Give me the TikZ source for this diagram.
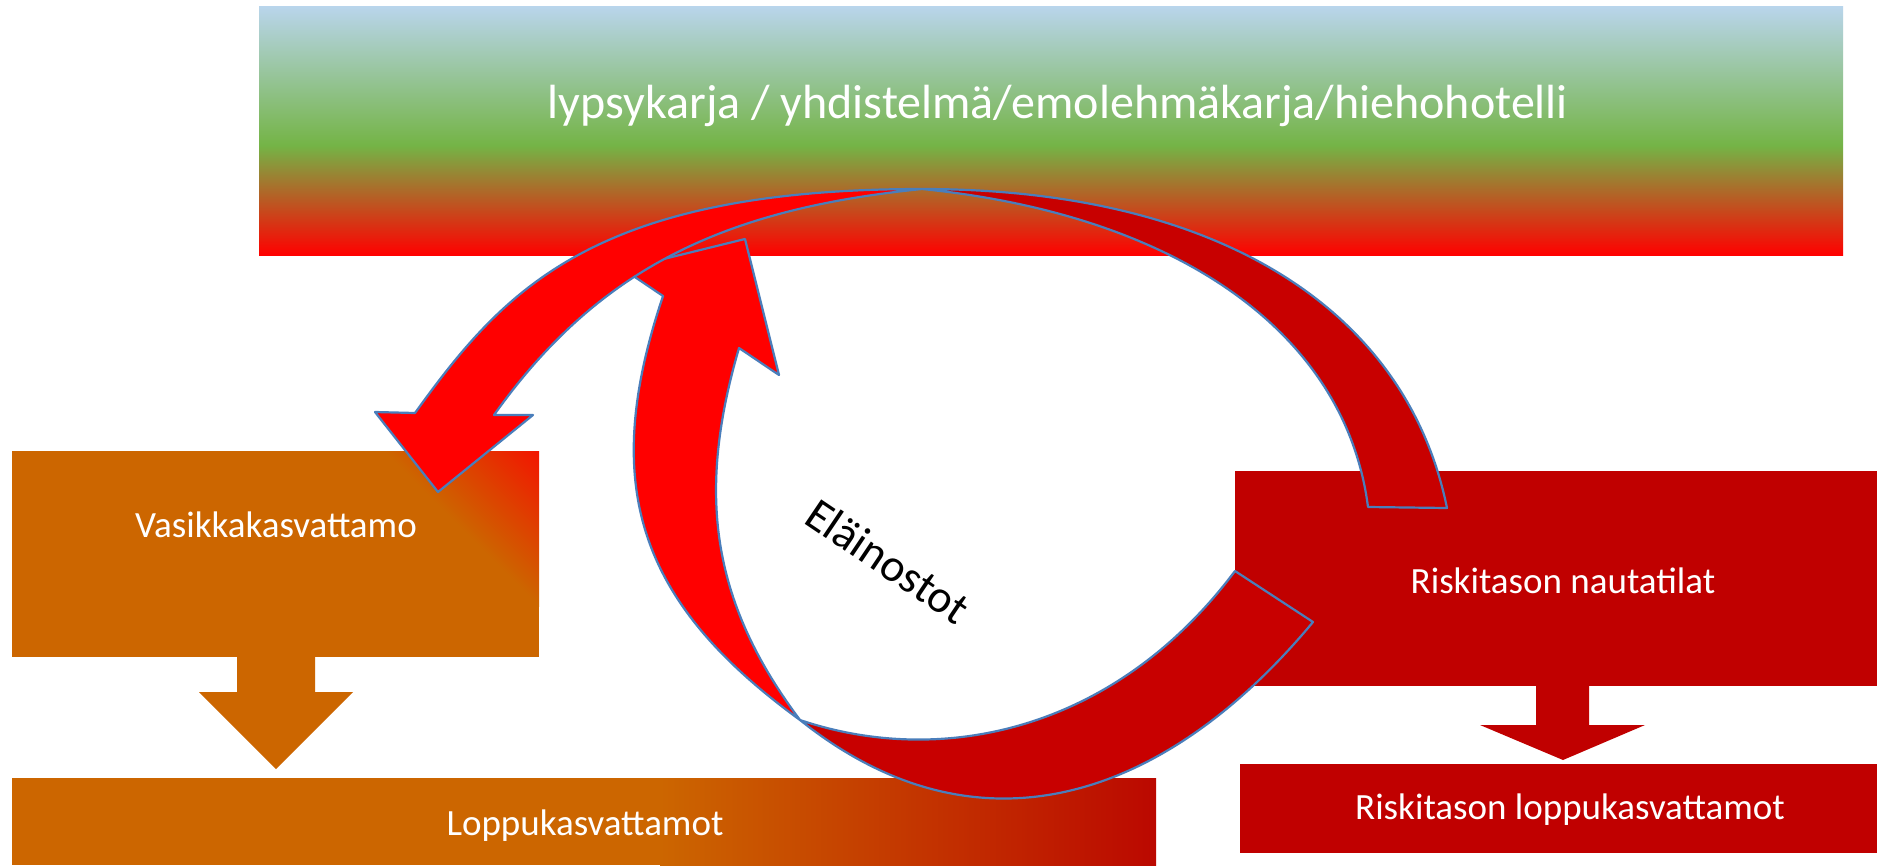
\documentclass[tikz,border=0pt]{standalone}
\usepackage{fontspec}
\setmainfont{Carlito}
\definecolor{orangeC}{HTML}{CC6600}
\definecolor{vasired}{HTML}{F31400}
\definecolor{loppured}{HTML}{BB0800}
\definecolor{riskired}{HTML}{C00000}
\definecolor{arrowdark}{HTML}{C80000}
\definecolor{arrowbright}{HTML}{FF0000}
\definecolor{edgeblue}{HTML}{4A7EBB}
\definecolor{bandblue}{HTML}{B9D5EC}
\definecolor{bandgreen}{HTML}{74B446}
\definecolor{bandred}{HTML}{FF0000}
\pgfdeclareverticalshading{bandshade}{100bp}{color(0bp)=(bandred); color(25bp)=(bandred); color(47bp)=(bandgreen); color(75bp)=(bandblue); color(100bp)=(bandblue)}
\tikzset{
  curvearrow/.style={draw=edgeblue, line width=2.2pt, line join=round},
  boxtext/.style={text=white, inner sep=0pt, anchor=base, font=\fontsize{37}{40}\selectfont},
}
\begin{document}
\begin{tikzpicture}[x=1pt,y=-1pt]
\useasboundingbox (0,0) rectangle (1877,865);
\fill[white] (0,0) rectangle (1877,865);
% top band
\shade[shading=bandshade] (259,6) rectangle (1843,255);
% Vasikkakasvattamo box
\fill[orangeC] (12,451) rectangle (539,657);
\begin{scope}
  \clip (12,451) rectangle (539,657);
  \begin{scope}[transform canvas={rotate around={45:(539,451)}}]
    \shade[left color=orangeC, right color=vasired] (429,151) rectangle (540,751);
  \end{scope}
\end{scope}
% left down arrow
\fill[orangeC] (237,656) -- (315,656) -- (315,692) -- (353,692) -- (276,769) -- (199,692) -- (237,692) -- cycle;
% Loppukasvattamot box
\fill[orangeC] (12,778) rectangle (661,865);
\shade[left color=orangeC, right color=loppured] (660,778) rectangle (1156,865);
% Riskitason boxes
\fill[riskired] (1235,471) rectangle (1877,686);
\fill[riskired] (1536,685) -- (1589,685) -- (1589,725) -- (1645,725) -- (1563,760) -- (1480,725) -- (1536,725) -- cycle;
\fill[riskired] (1240,764) rectangle (1877,853);
% dark arc, upper
\coordinate (T1) at (922,189);
\coordinate (T2) at (800,720);
\filldraw[curvearrow, fill=arrowdark] (T1) .. controls (1222,189) and (1407,312) .. (1447,508) -- (1368,507) .. controls (1345,329) and (1172,214) .. (T1) -- cycle;
% dark arc, lower
\filldraw[curvearrow, fill=arrowdark] (1235,571) -- (1313,622) .. controls (1166,799) and (979,863) .. (T2) .. controls (942,768) and (1115,731) .. (1235,571) -- cycle;
% bright arrow up
\filldraw[curvearrow, fill=arrowbright] (T2) .. controls (638,602) and (599,486) .. (663,296) -- (623,269) -- (745,239) -- (779,375) -- (739,348) .. controls (697,492) and (710,600) .. (T2) -- cycle;
% bright arrow down-left
\filldraw[curvearrow, fill=arrowbright] (T1) .. controls (592,189) and (503,291) .. (415,413) -- (375,412) -- (438,492) -- (533,415) -- (494,415) .. controls (598,269) and (723,209) .. (T1) -- cycle;
% texts
\node[boxtext, font=\fontsize{48}{52}\selectfont] (title) at (1058,118) {lypsykarja / yhdistelmä/emolehmäkarja/hiehohotelli};
\node[boxtext] (vasi) at (276,537) {Vasikkakasvattamo};
\node[boxtext] (loppu) at (585,835) {Loppukasvattamot};
\node[boxtext] (riski) at (1563,593) {Riskitason nautatilat};
\node[boxtext] (riskiloppu) at (1570,819) {Riskitason loppukasvattamot};
\node[font=\fontsize{46}{50}\selectfont, text=black, inner sep=0pt, anchor=base west, rotate=-34] (osto) at (802,522) {Eläinostot};
\end{tikzpicture}
\end{document}
